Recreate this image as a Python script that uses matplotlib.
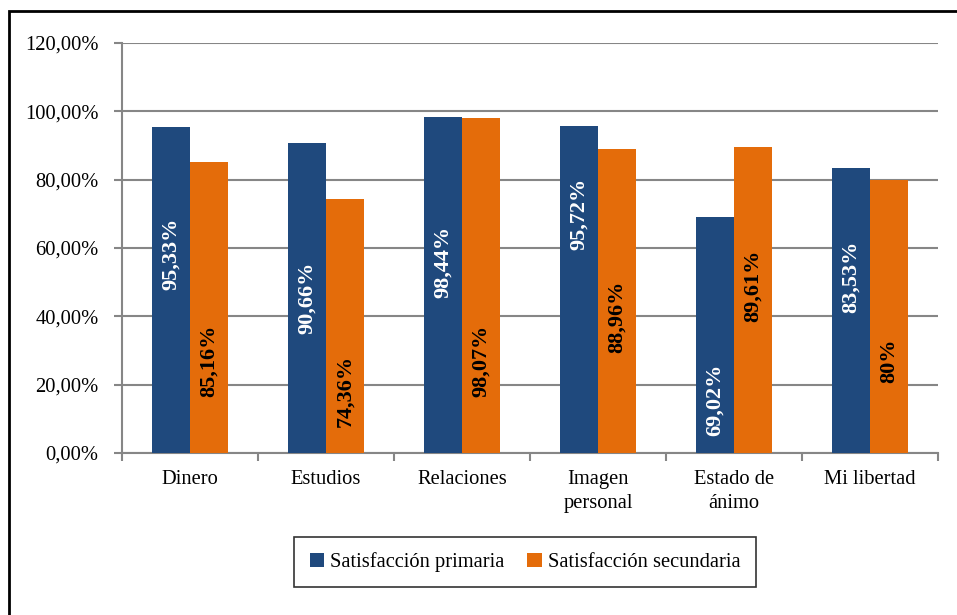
import numpy as np
import matplotlib.pyplot as plt
from matplotlib.patches import Rectangle
from matplotlib.ticker import FuncFormatter, FixedLocator

plt.rcParams['font.family'] = ['Liberation Serif', 'DejaVu Serif']

categories = ['Dinero', 'Estudios', 'Relaciones', 'Imagen\npersonal', 'Estado de\nánimo', 'Mi libertad']
primaria = [95.33, 90.66, 98.44, 95.72, 69.02, 83.53]
secundaria = [85.16, 74.36, 98.07, 88.96, 89.61, 80.0]
primaria_txt = ['95,33%', '90,66%', '98,44%', '95,72%', '69,02%', '83,53%']
secundaria_txt = ['85,16%', '74,36%', '98,07%', '88,96%', '89,61%', '80%']
# where each label sits (data units, label centre)
primaria_lbl_y = [58.2, 45.4, 55.9, 70.0, 15.5, 51.5]
secundaria_lbl_y = [26.9, 18.1, 26.9, 39.8, 48.9, 26.9]

blue = '#1F497D'
orange = '#E46C0A'
grid_c = '#868686'

fig = plt.figure(figsize=(9.57, 6.15), dpi=100)
ax = fig.add_axes([122/957, 1-453/615, (938-122)/957, (453-43)/615])

x = np.arange(len(categories))
w = 0.28
ax.bar(x - w/2, primaria, w, color=blue, label='Satisfacción primaria', zorder=3)
ax.bar(x + w/2, secundaria, w, color=orange, label='Satisfacción secundaria', zorder=3)

for i in range(len(categories)):
    ax.text(x[i] - w/2, primaria_lbl_y[i], primaria_txt[i], rotation=90, ha='center', va='center',
            color='white', fontsize=16, fontweight='bold', zorder=4)
    ax.text(x[i] + w/2, secundaria_lbl_y[i], secundaria_txt[i], rotation=90, ha='center', va='center',
            color='black', fontsize=16, fontweight='bold', zorder=4)

ax.set_xlim(-0.5, len(categories) - 0.5)
ax.set_ylim(0, 120)
ax.set_yticks(np.arange(0, 121, 20))
ax.yaxis.set_major_formatter(FuncFormatter(lambda v, p: '{:.2f}%'.format(v).replace('.', ',')))
ax.yaxis.grid(True, color=grid_c, linewidth=1.5, zorder=0)
ax.set_axisbelow(True)

ax.set_xticks(x)
ax.set_xticklabels(categories, fontsize=14.8, linespacing=1.35)
ax.xaxis.set_minor_locator(FixedLocator(np.arange(-0.5, len(categories), 1)))
ax.tick_params(axis='x', which='major', length=0, pad=12)
ax.tick_params(axis='x', which='minor', length=6, width=1.5, color=grid_c, direction='out')
ax.tick_params(axis='y', length=6, width=1.5, color=grid_c, labelsize=14.8, pad=11)

for s in ['top', 'right']:
    ax.spines[s].set_visible(False)
for s in ['left', 'bottom']:
    ax.spines[s].set_color(grid_c)
    ax.spines[s].set_linewidth(1.5)

leg = fig.legend(loc='center', bbox_to_anchor=(525/957, 1-562/615), ncol=2, fontsize=14.8,
                 frameon=True, fancybox=False, edgecolor='black', handlelength=0.7, handleheight=0.7,
                 handletextpad=0.3, columnspacing=1.1, borderpad=0.75, borderaxespad=0)
leg.get_frame().set_linewidth(1.2)

# outer chart border (runs off the right and bottom edges)
fig.patches.append(Rectangle((9/957, -0.05), 1.0, 1 - 11/615 + 0.05, transform=fig.transFigure,
                             fill=False, edgecolor='black', linewidth=2))

fig.savefig('out.png', dpi=100)
